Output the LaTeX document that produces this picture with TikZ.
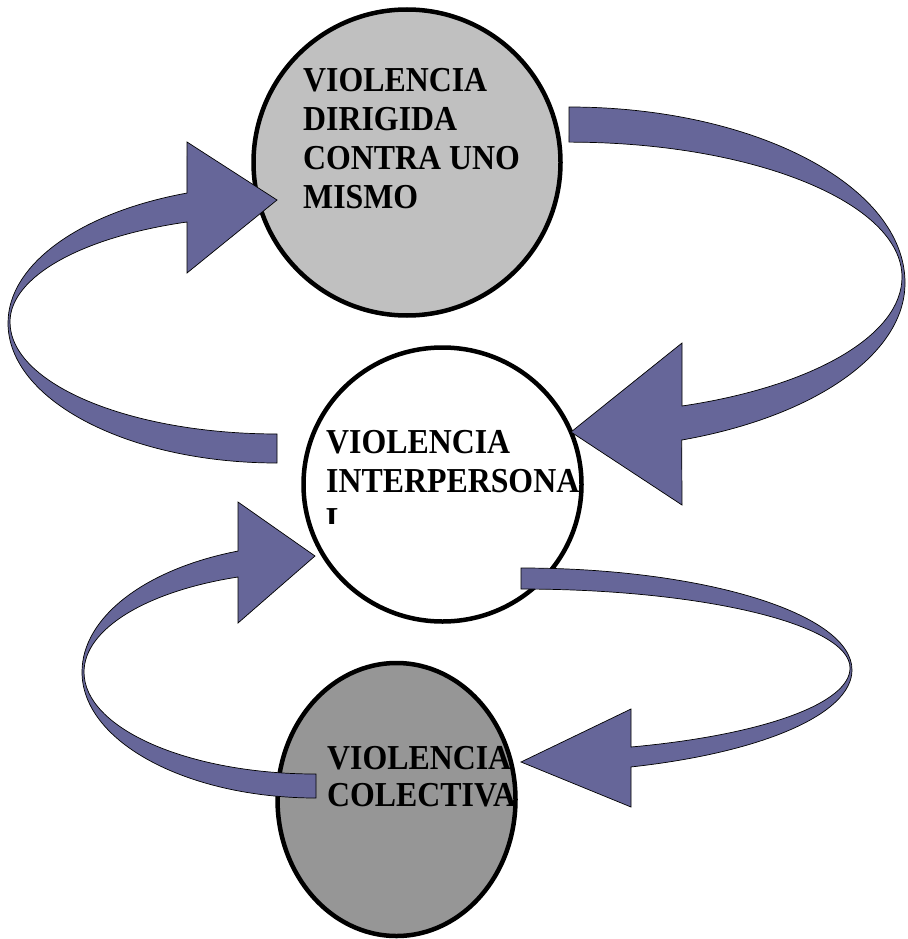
\documentclass[tikz,border=0pt]{standalone}
\usepackage{fontspec}
\setmainfont{Liberation Serif}[FakeStretch=0.91]
\usetikzlibrary{shapes.geometric}
\definecolor{arrowblue}{RGB}{102,102,153}
\definecolor{topgray}{RGB}{192,192,192}
\definecolor{botgray}{RGB}{150,150,150}
\begin{document}
\begin{tikzpicture}[x=1pt,y=-1pt,
  ell/.style={ellipse, draw=black, line width=4.5pt, inner sep=0pt},
  blockarrow/.style={fill=arrowblue, draw=black, line width=0.7pt, line join=miter},
  lbl/.style={anchor=base west, inner sep=0pt, align=left, font=\fontsize{35}{38.7}\selectfont\bfseries}]
\fill[white] (0,0) rectangle (907,939);
\useasboundingbox (0,0) rectangle (907,939);
% circles
\node[ell, fill=topgray, minimum width=307pt, minimum height=306pt] (self) at (407,162.5) {};
\node[ell, fill=white, minimum width=278pt, minimum height=274pt] (inter) at (442.5,484.5) {};
\node[ell, fill=botgray, minimum width=238pt, minimum height=273pt] (coll) at (396.5,799.5) {};
% arrow tips
\coordinate (tipA) at (571,432);
\coordinate (tipB) at (277,200);
\coordinate (tipC) at (521,762);
\coordinate (tipD) at (315,556);
% arrow 1: self -> inter (right)
\draw[blockarrow] (569,107)
  arc[start angle=-90, end angle=0, x radius=336, y radius=176]
  arc[start angle=0, end angle=70.4, x radius=336, y radius=166.7]
  -- (682,505) -- (tipA) -- (682,343) -- (682,406)
  arc[start angle=70.16, end angle=0, x radius=333, y radius=137]
  arc[start angle=0, end angle=-90, x radius=333, y radius=135]
  -- cycle;
% arrow 2: inter -> self (left)
\draw[blockarrow] (277,463)
  arc[start angle=90, end angle=180, x radius=269, y radius=140]
  arc[start angle=180, end angle=250.45, x radius=269, y radius=137.9]
  -- (187,142) -- (tipB) -- (187,273) -- (187,222)
  arc[start angle=250.3, end angle=180, x radius=267, y radius=106.2]
  arc[start angle=180, end angle=90, x radius=267, y radius=112]
  -- cycle;
% arrow 3: inter -> coll (right)
\draw[blockarrow] (521,568)
  arc[start angle=-90, end angle=0, x radius=331, y radius=102]
  arc[start angle=0, end angle=70.59, x radius=331, y radius=102.8]
  -- (631,807) -- (tipC) -- (631,709) -- (631,747)
  arc[start angle=70.47, end angle=0, x radius=329, y radius=83.8]
  arc[start angle=0, end angle=-90, x radius=329, y radius=79]
  -- cycle;
% arrow 4: coll -> inter (left)
\draw[blockarrow] (316,798)
  arc[start angle=90, end angle=180, x radius=234, y radius=126]
  arc[start angle=180, end angle=250.53, x radius=234, y radius=128.3]
  -- (238,502) -- (tipD) -- (238,623) -- (238,577)
  arc[start angle=250.35, end angle=180, x radius=232, y radius=100.9]
  arc[start angle=180, end angle=90, x radius=232, y radius=102]
  -- cycle;
% labels (anchor = baseline of the last line)
\node[lbl] (selftext) at (303,208) {VIOLENCIA\\DIRIGIDA\\CONTRA UNO\\MISMO};
\begin{scope}
  \clip (300,400) rectangle (600,523);
  \node[lbl, font=\fontsize{35}{39}\selectfont\bfseries] (intertext) at (326,531) {VIOLENCIA\\INTERPERSONA\\L};
\end{scope}
\node[lbl, font=\fontsize{35}{37}\selectfont\bfseries] (colltext) at (327,806) {VIOLENCIA\\COLECTIVA};
\end{tikzpicture}
\end{document}
